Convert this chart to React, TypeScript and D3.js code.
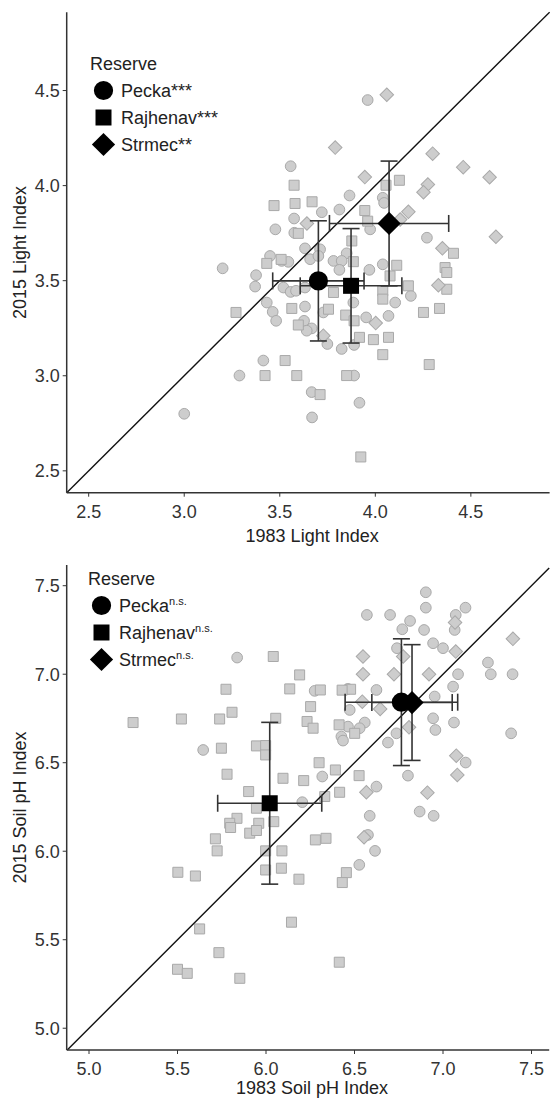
import React from "react";
import * as d3 from "d3";

type Pt = [number, number];

// ---------- Light index (1983 vs 2015) ----------
const lightPecka: Pt[] = [
  [3.96, 4.45], [3.0, 2.8], [3.557, 4.102], [3.865, 3.948], [4.039, 3.936], [4.046, 3.909],
  [3.72, 3.86], [3.812, 3.874], [3.575, 3.827], [3.477, 3.77], [3.576, 3.752], [3.973, 3.77],
  [4.27, 3.726], [3.632, 3.67], [3.711, 3.665], [3.449, 3.63], [3.51, 3.604], [3.545, 3.599],
  [3.659, 3.613], [3.702, 3.63], [3.781, 3.604], [3.85, 3.644], [3.824, 3.604], [3.201, 3.565],
  [3.376, 3.529], [3.371, 3.469], [4.039, 3.586], [3.969, 3.557], [3.519, 3.464], [3.557, 3.441],
  [3.585, 3.447], [3.632, 3.464], [3.885, 3.385], [4.104, 3.385], [4.186, 3.42], [3.432, 3.385],
  [3.463, 3.336], [3.481, 3.289], [3.632, 3.364], [3.728, 3.333], [3.952, 3.307], [4.069, 3.315],
  [3.627, 3.289], [3.667, 3.249], [3.641, 3.237], [3.749, 3.167], [3.824, 3.141], [3.889, 3.162],
  [3.414, 3.08], [3.289, 3.001], [3.889, 3.001], [3.667, 2.914], [3.917, 2.858], [3.669, 2.781],
  [3.812, 3.557],
];
const lightRajhenav: Pt[] = [
  [3.575, 4.002], [4.126, 4.028], [4.056, 4.002], [3.47, 3.895], [3.58, 3.906], [3.669, 3.915],
  [3.945, 3.869], [3.597, 3.749], [3.96, 3.813], [3.877, 3.709], [3.432, 3.591], [3.507, 3.612],
  [3.885, 3.6], [4.112, 3.581], [4.077, 3.525], [4.365, 3.569], [4.374, 3.543], [4.409, 3.644],
  [4.374, 3.455], [4.173, 3.473], [4.039, 3.447], [4.039, 3.403], [3.781, 3.438], [3.755, 3.35],
  [3.563, 3.354], [3.271, 3.333], [4.252, 3.333], [4.336, 3.354], [3.845, 3.319], [3.889, 3.289],
  [3.597, 3.267], [3.917, 3.202], [3.99, 3.19], [4.069, 3.202], [4.039, 3.111], [4.282, 3.059],
  [3.528, 3.08], [3.423, 3.001], [3.589, 3.001], [3.85, 3.001], [3.711, 2.901], [3.924, 2.573],
];
const lightStrmec: Pt[] = [
  [3.79, 4.2], [4.06, 4.478], [4.3, 4.168], [4.46, 4.097], [4.598, 4.044], [4.631, 3.731],
  [3.945, 4.045], [4.275, 4.006], [4.252, 3.965], [4.351, 3.67], [4.173, 3.862], [3.642, 3.801],
  [4.13, 3.822], [4.33, 3.476], [4.002, 3.277], [3.728, 3.211],
];
const lightMeanX = [3.702, 3.873, 4.072];
const lightMeanY = [3.499, 3.473, 3.801];
const lightSdX = [0.239, 0.266, 0.312];
const lightSdY = [0.316, 0.301, 0.328];
const lightSig = ["***", "***", "**"];
const lightTicks = [2.5, 3.0, 3.5, 4.0, 4.5];

// ---------- Soil pH index (1983 vs 2015) ----------
const phPecka: Pt[] = [
  [6.903, 7.463], [6.903, 7.376], [7.127, 7.376], [6.57, 7.335], [6.701, 7.335], [6.814, 7.301],
  [6.77, 7.254], [6.893, 7.25], [7.072, 7.335], [7.066, 7.25], [5.837, 7.094], [5.645, 6.572],
  [7.385, 6.666], [7.254, 7.066], [7.27, 7.0], [7.393, 7.0], [6.944, 7.175], [7.0, 7.147],
  [7.085, 7.0], [6.74, 7.147], [6.624, 6.911], [6.463, 6.917], [6.473, 6.798], [6.463, 6.704],
  [6.558, 6.727], [6.529, 6.695], [6.426, 6.648], [6.435, 6.625], [6.689, 6.614], [6.737, 6.666],
  [6.944, 6.751], [6.957, 6.685], [7.062, 6.727], [6.953, 6.874], [7.057, 6.93], [6.802, 6.427],
  [7.128, 6.501], [6.624, 6.365], [6.318, 6.422], [6.205, 6.277], [6.275, 6.906], [6.868, 6.224],
  [6.586, 6.2], [6.576, 6.092], [6.616, 6.002], [6.527, 5.923], [6.947, 6.2],
];
const phRajhenav: Pt[] = [
  [5.249, 6.727], [5.522, 6.747], [5.738, 6.747], [5.808, 6.785], [5.774, 6.915], [5.748, 6.582],
  [5.78, 6.435], [6.041, 7.1], [6.19, 6.996], [6.134, 6.917], [6.307, 6.911], [6.252, 6.817],
  [6.055, 6.751], [6.232, 6.733], [6.266, 6.695], [5.946, 6.595], [5.998, 6.597], [5.998, 6.544],
  [5.902, 6.337], [6.096, 6.412], [6.213, 6.399], [6.3, 6.5], [6.392, 6.459], [6.526, 6.427],
  [6.416, 6.333], [6.332, 6.309], [6.044, 6.167], [5.946, 6.243], [5.836, 6.186], [5.795, 6.158],
  [5.8, 6.134], [5.959, 6.158], [5.908, 6.102], [5.946, 6.117], [5.714, 6.07], [5.724, 6.002],
  [5.998, 6.002], [6.09, 6.002], [5.998, 5.894], [6.087, 5.904], [5.601, 5.86], [5.502, 5.881],
  [6.186, 5.842], [6.279, 6.064], [6.339, 6.073], [6.454, 5.879], [6.431, 5.823], [5.625, 5.561],
  [5.734, 5.427], [5.5, 5.333], [5.555, 5.31], [5.852, 5.282], [6.144, 5.599], [6.414, 5.373],
  [6.413, 6.714], [6.501, 6.666], [6.478, 6.915], [6.43, 6.91],
];
const phStrmec: Pt[] = [
  [7.395, 7.2], [7.068, 7.292], [6.548, 7.1], [6.548, 7.0], [6.723, 7.0], [6.921, 7.0],
  [7.072, 7.128], [6.775, 7.1], [6.544, 6.845], [6.645, 6.804], [6.808, 6.7], [7.075, 6.54],
  [7.081, 6.431], [6.912, 6.331], [6.567, 6.333], [6.554, 6.079],
];
const phMeanX = [6.765, 6.021, 6.825];
const phMeanY = [6.842, 6.271, 6.84];
const phSdX = [0.318, 0.294, 0.227];
const phSdY = [0.358, 0.457, 0.327];
const phSig = ["n.s.", "n.s.", "n.s."];
const phTicks = [5.0, 5.5, 6.0, 6.5, 7.0, 7.5];

const reserves = ["Pecka", "Rajhenav", "Strmec"];

const FONT = "'Liberation Sans', Arial, Helvetica, sans-serif";
const GRAY_FILL = "#cdcdcd";
const GRAY_STROKE = "#a9a9a9";
const INK = "#222";

const shapeKinds = ["circle", "square", "diamond"] as const;

function markerPath(kind: string, area: number): string {
  if (kind === "circle") return d3.symbol(d3.symbolCircle, area)() as string;
  return d3.symbol(d3.symbolSquare, area)() as string;
}

function Marker({ kind, x, y, area, fill, stroke }: { kind: string; x: number; y: number; area: number; fill: string; stroke?: string }) {
  const rot = kind === "diamond" ? " rotate(45)" : "";
  return (
    <path
      d={markerPath(kind, area)}
      transform={`translate(${x},${y})${rot}`}
      fill={fill}
      stroke={stroke ?? "none"}
      strokeWidth={1}
    />
  );
}

type PanelProps = {
  xDomain: [number, number];
  yDomain: [number, number];
  left: number; right: number; top: number; bottom: number;
  ticks: number[];
  xTitle: string; yTitle: string; xTitleOffset: number;
  groups: Pt[][];
  meanX: number[]; meanY: number[]; sdX: number[]; sdY: number[];
  sig: string[]; sigSuper: boolean;
  legendX: number; legendY: number;
};

function Panel(p: PanelProps) {
  const x = d3.scaleLinear().domain(p.xDomain).range([p.left, p.right]);
  const y = d3.scaleLinear().domain(p.yDomain).range([p.bottom, p.top]);
  const fmt = d3.format(".1f");
  const lo = Math.max(p.xDomain[0], p.yDomain[0]);
  const hi = Math.min(p.xDomain[1], p.yDomain[1]);
  const cap = 8.5;
  const meanArea = [290, 256, 270];
  const grayArea = [90, 100, 92];
  const midY = (p.top + p.bottom) / 2;
  const midX = (p.left + p.right) / 2;

  return (
    <g fontFamily={FONT}>
      {/* observations */}
      {p.groups.map((pts, gi) =>
        pts.map((d, i) => (
          <Marker key={`${gi}-${i}`} kind={shapeKinds[gi]} x={x(d[0])} y={y(d[1])} area={grayArea[gi]} fill={GRAY_FILL} stroke={GRAY_STROKE} />
        ))
      )}
      {/* 1:1 line */}
      <line x1={x(lo)} y1={y(lo)} x2={x(hi)} y2={y(hi)} stroke="#111" strokeWidth={1.4} />
      {/* error bars */}
      {p.meanX.map((mx, i) => {
        const cx = x(mx), cy = y(p.meanY[i]);
        const x0 = x(mx - p.sdX[i]), x1 = x(mx + p.sdX[i]);
        const y0 = y(p.meanY[i] - p.sdY[i]), y1 = y(p.meanY[i] + p.sdY[i]);
        return (
          <g key={`eb${i}`} stroke="#333" strokeWidth={1.6} fill="none">
            <line x1={x0} y1={cy} x2={x1} y2={cy} />
            <line x1={x0} y1={cy - cap} x2={x0} y2={cy + cap} />
            <line x1={x1} y1={cy - cap} x2={x1} y2={cy + cap} />
            <line x1={cx} y1={y0} x2={cx} y2={y1} />
            <line x1={cx - cap} y1={y0} x2={cx + cap} y2={y0} />
            <line x1={cx - cap} y1={y1} x2={cx + cap} y2={y1} />
          </g>
        );
      })}
      {p.meanX.map((mx, i) => (
        <Marker key={`m${i}`} kind={shapeKinds[i]} x={x(mx)} y={y(p.meanY[i])} area={meanArea[i]} fill="#000" />
      ))}
      {/* axes */}
      <g stroke="#333" strokeWidth={1.5}>
        <line x1={p.left} y1={p.bottom} x2={p.right} y2={p.bottom} />
        <line x1={p.left} y1={p.bottom} x2={p.left} y2={p.top} />
        {p.ticks.map((t) => (
          <line key={`xt${t}`} x1={x(t)} y1={p.bottom} x2={x(t)} y2={p.bottom + 4} strokeWidth={1} />
        ))}
        {p.ticks.map((t) => (
          <line key={`yt${t}`} x1={p.left} y1={y(t)} x2={p.left - 4} y2={y(t)} strokeWidth={1} />
        ))}
      </g>
      <g fill="#333" fontSize={18}>
        {p.ticks.map((t) => (
          <text key={`xl${t}`} x={x(t)} y={p.bottom + 25} textAnchor="middle">{fmt(t)}</text>
        ))}
        {p.ticks.map((t) => (
          <text key={`yl${t}`} x={p.left - 7} y={y(t) + 6.5} textAnchor="end">{fmt(t)}</text>
        ))}
      </g>
      <text x={midX + 4} y={p.bottom + p.xTitleOffset} textAnchor="middle" fontSize={18} fill={INK}>{p.xTitle}</text>
      <text transform={`translate(26,${midY}) rotate(-90)`} textAnchor="middle" fontSize={18} fill={INK}>{p.yTitle}</text>
      {/* legend */}
      <g fill={INK} fontSize={18}>
        <text x={p.legendX} y={p.legendY}>Reserve</text>
        {reserves.map((r, i) => {
          const cy = p.legendY + 20.5 + i * 27;
          return (
            <g key={r}>
              <Marker kind={shapeKinds[i]} x={p.legendX + 13.5} y={cy} area={meanArea[i]} fill="#000" />
              <text x={p.legendX + 31} y={cy + 6.3}>
                {r}
                {p.sigSuper ? (
                  <tspan fontSize={11} dy={-7}>{p.sig[i]}</tspan>
                ) : (
                  p.sig[i]
                )}
              </text>
            </g>
          );
        })}
      </g>
    </g>
  );
}

export default function App() {
  return (
    <svg width={550} height={1099} style={{ position: "absolute", left: 0, top: 0, background: "#fff" }}>
      <Panel
        xDomain={[2.385, 4.912]} yDomain={[2.385, 4.912]}
        left={66.7} right={549.6} top={12.2} bottom={492.7}
        ticks={lightTicks}
        xTitle="1983 Light Index" yTitle="2015 Light Index" xTitleOffset={49}
        groups={[lightPecka, lightRajhenav, lightStrmec]}
        meanX={lightMeanX} meanY={lightMeanY} sdX={lightSdX} sdY={lightSdY}
        sig={lightSig} sigSuper={false}
        legendX={90} legendY={70}
      />
      <Panel
        xDomain={[4.874, 7.6]} yDomain={[4.877, 7.617]}
        left={66.7} right={549.2} top={565} bottom={1050}
        ticks={phTicks}
        xTitle="1983 Soil pH Index" yTitle="2015 Soil pH Index" xTitleOffset={44}
        groups={[phPecka, phRajhenav, phStrmec]}
        meanX={phMeanX} meanY={phMeanY} sdX={phSdX} sdY={phSdY}
        sig={phSig} sigSuper={true}
        legendX={88} legendY={585}
      />
    </svg>
  );
}
